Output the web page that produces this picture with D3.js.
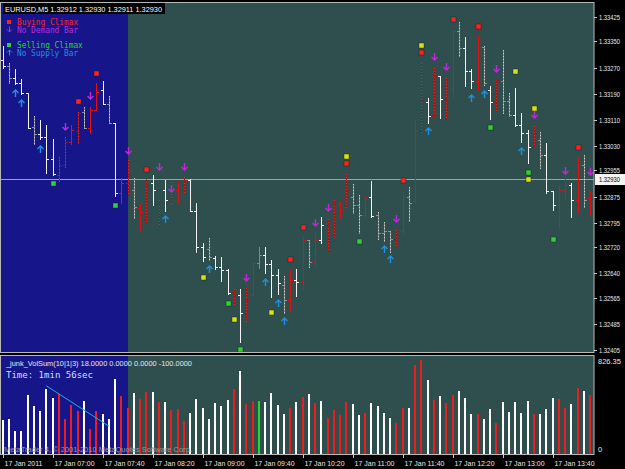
<!DOCTYPE html>
<html>
<head>
<meta charset="utf-8">
<script src="https://cdn.jsdelivr.net/npm/d3@7"></script>
<style>
body{margin:0;background:#000;}
svg{display:block;}
</style>
</head>
<body>
<script>
// EURUSD M5 bars, 17 Jan 2011 from 06:20
const opens = [1.33293,1.33275,1.33238,1.33223,1.33192,1.33088,1.33067,1.33057,1.32990,1.32941,
1.32972,1.33042,1.33076,1.33134,1.33085,1.33140,1.33201,1.33158,1.33100,1.32886,
1.32916,1.32895,1.32840,1.32803,1.32916,1.32855,1.32895,1.32864,1.32895,1.32910,
1.32926,1.32831,1.32720,1.32714,1.32687,1.32659,1.32650,1.32583,1.32573,1.32518,
1.32573,1.32671,1.32696,1.32668,1.32635,1.32604,1.32558,1.32619,1.32613,1.32742,
1.32674,1.32742,1.32788,1.32757,1.32855,1.32849,1.32874,1.32849,1.32818,1.32874,
1.32818,1.32763,1.32769,1.32745,1.32769,1.32874,1.32861,1.33076,1.33165,1.33122,
1.33244,1.33174,1.33204,1.33382,1.33330,1.33260,1.33226,1.33333,1.33201,1.33165,
1.33229,1.33168,1.33125,1.33094,1.33070,1.33027,1.33048,1.33002,1.32892,1.32849,
1.32895,1.32910,1.32864,1.32972,1.32870];
const highs = [1.33336,1.33284,1.33266,1.33235,1.33192,1.33122,1.33109,1.33094,1.33051,1.32996,
1.33057,1.33094,1.33134,1.33149,1.33149,1.33223,1.33229,1.33183,1.33100,1.32932,
1.32987,1.32932,1.32855,1.32929,1.32941,1.32864,1.32926,1.32920,1.32920,1.32935,
1.32929,1.32855,1.32733,1.32748,1.32693,1.32690,1.32653,1.32592,1.32592,1.32595,
1.32671,1.32720,1.32720,1.32681,1.32653,1.32632,1.32650,1.32653,1.32751,1.32742,
1.32763,1.32812,1.32806,1.32864,1.32858,1.32944,1.32913,1.32880,1.32874,1.32923,
1.32828,1.32797,1.32769,1.32773,1.32892,1.32904,1.33113,1.33284,1.33177,1.33269,
1.33244,1.33238,1.33385,1.33410,1.33364,1.33266,1.33367,1.33336,1.33214,1.33232,
1.33324,1.33192,1.33207,1.33131,1.33079,1.33091,1.33073,1.33039,1.32892,1.32910,
1.32956,1.32916,1.32996,1.33002,1.32889];
const lows = [1.33269,1.33223,1.33220,1.33189,1.33085,1.33036,1.33051,1.32947,1.32941,1.32923,
1.32965,1.33036,1.33039,1.33085,1.33070,1.33140,1.33158,1.33100,1.32877,1.32855,
1.32880,1.32809,1.32773,1.32794,1.32849,1.32785,1.32831,1.32855,1.32858,1.32886,
1.32831,1.32705,1.32678,1.32681,1.32653,1.32616,1.32576,1.32543,1.32429,1.32494,
1.32573,1.32656,1.32641,1.32567,1.32576,1.32518,1.32524,1.32570,1.32592,1.32659,
1.32665,1.32733,1.32708,1.32751,1.32806,1.32843,1.32825,1.32763,1.32812,1.32812,
1.32745,1.32739,1.32705,1.32723,1.32763,1.32800,1.32855,1.33073,1.33100,1.33119,
1.33116,1.33113,1.33180,1.33305,1.33214,1.33207,1.33201,1.33217,1.33113,1.33137,
1.33131,1.33122,1.33091,1.33042,1.32978,1.33027,1.32962,1.32886,1.32834,1.32779,
1.32864,1.32812,1.32825,1.32843,1.32818];
const closes = [1.33275,1.33238,1.33223,1.33192,1.33085,1.33067,1.33057,1.32990,1.32944,1.32972,
1.33042,1.33079,1.33131,1.33085,1.33140,1.33195,1.33158,1.33100,1.32886,1.32916,
1.32941,1.32843,1.32828,1.32910,1.32895,1.32818,1.32864,1.32895,1.32910,1.32926,
1.32831,1.32720,1.32690,1.32690,1.32659,1.32650,1.32580,1.32573,1.32518,1.32558,
1.32671,1.32696,1.32668,1.32635,1.32610,1.32558,1.32619,1.32613,1.32742,1.32674,
1.32742,1.32788,1.32745,1.32855,1.32834,1.32895,1.32849,1.32818,1.32871,1.32815,
1.32763,1.32769,1.32745,1.32769,1.32874,1.32855,1.33076,1.33171,1.33122,1.33244,
1.33174,1.33235,1.33382,1.33330,1.33260,1.33229,1.33333,1.33223,1.33165,1.33232,
1.33168,1.33125,1.33094,1.33070,1.33027,1.33070,1.33002,1.32892,1.32849,1.32895,
1.32910,1.32864,1.32972,1.32864,1.32850];
const volumes = [299,305,202,202,519,422,378,571,490,527,
305,431,378,469,217,378,349,305,659,513,
402,534,486,542,548,454,454,389,398,293,
363,486,402,308,446,425,472,569,727,442,
463,463,460,534,431,349,404,454,501,527,
444,466,316,384,343,454,440,343,363,448,
419,363,316,270,404,404,782,824,651,475,
510,446,516,551,490,352,352,310,396,273,
460,372,454,360,466,352,352,393,492,486,
404,442,578,556,516];
// W white, w grey dotted, R red, r dark red dotted, G green
const barKinds = ["W","w","W","W","W","w","W","W","W","r",
"r","R","r","w","R","R","W","w","W","R",
"r","w","R","r","W","r","W","r","R","r",
"W","W","W","w","W","W","W","r","W","r",
"R","G","W","W","W","w","R","W","R","w",
"R","W","r","r","R","r","w","w","R","W",
"w","w","w","r","R","w","R","r","W","r",
"W","r","R","w","W","W","R","w","W","r",
"w","w","W","W","W","r","w","W","W","R",
"R","W","R","w","R"];

const priceTicks = [1.33425,1.33350,1.33270,1.33190,1.33110,1.33030,1.32955,1.32875,1.32795,1.32720,1.32640,1.32565,1.32485,1.32405];
const timeTickBars = [0,8,16,24,32,40,48,56,64,72,80,88];
const timeLabels = ["17 Jan 2011","17 Jan 07:00","17 Jan 07:40","17 Jan 08:20","17 Jan 09:00","17 Jan 09:40",
"17 Jan 10:20","17 Jan 11:00","17 Jan 11:40","17 Jan 12:20","17 Jan 13:00","17 Jan 13:40"];
const bidPrice = 1.32930;
const volMax = 826.35;

// signals as [bar, price]
const buyingClimax = [[12,1.33168],[15,1.33253],[23,1.32959],[46,1.32684],[48,1.32782],[55,1.32978],[64,1.32926],[67,1.33318],[72,1.33419],[76,1.33397],[92,1.33027]];
const sellingClimax = [[8,1.32916],[18,1.32849],[36,1.32549],[38,1.32408],[57,1.32739],[78,1.33088],[84,1.32950],[88,1.32745]];
const yellowMarks = [[32,1.32629],[37,1.32500],[43,1.32521],[55,1.32999],[67,1.33339],[82,1.33260],[84,1.32929],[85,1.33146]];
const noDemand = [[10,1.33088],[14,1.33183],[20,1.33014],[25,1.32965],[27,1.32898],[29,1.32965],[39,1.32625],[50,1.32794],[52,1.32840],[63,1.32806],[69,1.33302],[71,1.33272],[79,1.33266],[85,1.33125],[90,1.32953],[94,1.32950]];
const noSupply = [[2,1.33192],[3,1.33162],[6,1.33021],[26,1.32806],[33,1.32653],[42,1.32613],[44,1.32549],[45,1.32494],[61,1.32714],[62,1.32684],[68,1.33076],[75,1.33177],[77,1.33189],[83,1.33014]];
// volume trend line [bar, volume]
const volTrend = [[7,600],[17,246]];

const W = 625, H = 469;
const plotRight = 594, mainTop = 2, mainBottom = 352, volTop = 355, volBottom = 454;
const sessionEndBar = 20;

const svg = d3.select("body").append("svg").attr("width", W).attr("height", H)
    .style("background", "#000");

const x = d3.scaleLinear().domain([0, 94]).range([2.5, 590]);
const y = d3.scaleLinear().domain([1.32405, 1.33425]).range([350, 17]);
const yv = d3.scaleLinear().domain([0, volMax]).range([volBottom, 360]);
const px = i => Math.round(x(i)) + 0.5;

// base colour and (for dotted kinds) the dot colour drawn over it
const barColor = {W: "#f4f4f4", w: "#8e9090", R: "#e01010", r: "#9c1414", G: "#20d020"};
const dotColor = {w: "#d0d0d0", r: "#e82828"};
const volColor = {W: "#ffffff", w: "#ffffff", R: "#ee1c1c", r: "#ee1c1c", G: "#22dd22"};

// panel backgrounds
[[mainTop, mainBottom], [volTop, volBottom]].forEach(function(p){
    svg.append("rect").attr("x", 0).attr("y", p[0]).attr("width", plotRight).attr("height", p[1] - p[0])
        .attr("fill", "#2f4f4f");
    // early session shading
    svg.append("rect").attr("x", 0).attr("y", p[0]).attr("width", x(sessionEndBar) + 0.5).attr("height", p[1] - p[0])
        .attr("fill", "#16168a");
});

// clip for main panel
svg.append("clipPath").attr("id", "mainClip").append("rect")
    .attr("x", 0).attr("y", mainTop).attr("width", plotRight).attr("height", mainBottom - mainTop);
const main = svg.append("g").attr("clip-path", "url(#mainClip)");

// bid line
main.append("line").attr("x1", 0).attr("x2", plotRight)
    .attr("y1", Math.round(y(bidPrice)) + 0.5).attr("y2", Math.round(y(bidPrice)) + 0.5)
    .attr("stroke", "#9aa6a6").attr("stroke-width", 1);

// OHLC bars
const idx = d3.range(opens.length);
const bars = main.append("g").selectAll("g").data(idx).enter().append("g")
    .attr("stroke", function(i){return barColor[barKinds[i]];});
bars.append("line")
    .attr("x1", px).attr("x2", px)
    .attr("y1", function(i){return Math.round(y(highs[i]));})
    .attr("y2", function(i){return Math.round(y(lows[i])) + 1;});
// dotted look for the painted bars
bars.filter(function(i){return dotColor[barKinds[i]];}).append("line")
    .attr("x1", px).attr("x2", px)
    .attr("y1", function(i){return Math.round(y(highs[i]));})
    .attr("y2", function(i){return Math.round(y(lows[i])) + 1;})
    .attr("stroke", function(i){return dotColor[barKinds[i]];})
    .attr("stroke-dasharray", "1,2");
bars.append("line")
    .attr("x1", function(i){return px(i) - 2.5;}).attr("x2", function(i){return px(i);})
    .attr("y1", function(i){return Math.round(y(opens[i])) + 0.5;})
    .attr("y2", function(i){return Math.round(y(opens[i])) + 0.5;});
bars.append("line")
    .attr("x1", function(i){return px(i);}).attr("x2", function(i){return px(i) + 2.5;})
    .attr("y1", function(i){return Math.round(y(closes[i])) + 0.5;})
    .attr("y2", function(i){return Math.round(y(closes[i])) + 0.5;});

// square markers
function squares(data, color){
    main.append("g").selectAll("rect").data(data).enter().append("rect")
        .attr("x", function(d){return Math.round(x(d[0])) - 2;})
        .attr("y", function(d){return Math.round(y(d[1])) - 2;})
        .attr("width", 5).attr("height", 5)
        .attr("fill", color).attr("stroke", "#1a1a1a").attr("stroke-width", 0.4);
}
squares(buyingClimax, "#ff2020");
squares(sellingClimax, "#30d030");
squares(yellowMarks, "#d8e010");

// arrows: dir 1 = down, -1 = up
function arrows(data, color, dir){
    main.append("g").selectAll("path").data(data).enter().append("path")
        .attr("transform", function(d){return "translate(" + (Math.round(x(d[0])) + 0.5) + "," + Math.round(y(d[1])) + ")";})
        .attr("d", dir > 0 ? "M0,-4 L0,3 M-3,0 L0,3 L3,0" : "M0,4 L0,-3 M-3,0 L0,-3 L3,0")
        .attr("fill", "none").attr("stroke", color).attr("stroke-width", 1.4);
}
arrows(noDemand, "#c028d8", 1);
arrows(noSupply, "#2090e0", -1);

// volume histogram
svg.append("g").selectAll("rect").data(idx).enter().append("rect")
    .attr("x", function(i){return Math.round(x(i)) - 1;})
    .attr("y", function(i){return Math.round(yv(volumes[i]));})
    .attr("width", 2)
    .attr("height", function(i){return volBottom - Math.round(yv(volumes[i]));})
    .attr("fill", function(i){return volColor[barKinds[i]];});

// trend line on volume
svg.append("line")
    .attr("x1", x(volTrend[0][0])).attr("y1", yv(volTrend[0][1]))
    .attr("x2", x(volTrend[1][0])).attr("y2", yv(volTrend[1][1]))
    .attr("stroke", "#18b0e0").attr("stroke-width", 1);

// panel borders
svg.append("rect").attr("x", 0.5).attr("y", mainTop + 0.5).attr("width", plotRight - 0.5).attr("height", mainBottom - mainTop)
    .attr("fill", "none").attr("stroke", "#b8b8b8");
svg.append("rect").attr("x", 0.5).attr("y", volTop + 0.5).attr("width", plotRight - 0.5).attr("height", volBottom - volTop)
    .attr("fill", "none").attr("stroke", "#b8b8b8");

const axisFont = "'Liberation Sans', Arial, sans-serif";
const monoFont = "'DejaVu Sans Mono', 'Liberation Mono', monospace";

// price axis
const pAxis = svg.append("g");
pAxis.selectAll("line").data(priceTicks).enter().append("line")
    .attr("x1", plotRight).attr("x2", plotRight + 3)
    .attr("y1", function(d){return Math.round(y(d)) + 0.5;}).attr("y2", function(d){return Math.round(y(d)) + 0.5;})
    .attr("stroke", "#c8c8c8");
pAxis.selectAll("text").data(priceTicks).enter().append("text")
    .attr("x", 599).attr("y", function(d){return y(d) + 3;})
    .attr("fill", "#e8e8e8").attr("font-family", axisFont).attr("font-size", 7.5)
    .attr("textLength", 21).attr("lengthAdjust", "spacingAndGlyphs")
    .text(function(d){return d.toFixed(5);});

// bid label
svg.append("rect").attr("x", 595).attr("y", Math.round(y(bidPrice)) - 5).attr("width", 30).attr("height", 11)
    .attr("fill", "#f4f4f4");
svg.append("text").attr("x", 599).attr("y", y(bidPrice) + 3)
    .attr("fill", "#000").attr("font-family", axisFont).attr("font-size", 7.5)
    .attr("textLength", 21).attr("lengthAdjust", "spacingAndGlyphs")
    .text(bidPrice.toFixed(5));

// volume axis labels
svg.append("text").attr("x", 598).attr("y", yv(volMax) + 4)
    .attr("fill", "#e8e8e8").attr("font-family", axisFont).attr("font-size", 7.5)
    .text(volMax.toFixed(2));
svg.append("text").attr("x", 598).attr("y", 452)
    .attr("fill", "#e8e8e8").attr("font-family", axisFont).attr("font-size", 7.5)
    .text("0");

// time axis
const tAxis = svg.append("g");
tAxis.selectAll("line").data(timeTickBars).enter().append("line")
    .attr("x1", px).attr("x2", px).attr("y1", volBottom).attr("y2", volBottom + 4)
    .attr("stroke", "#c8c8c8");
tAxis.selectAll("text").data(timeTickBars).enter().append("text")
    .attr("x", function(d){return px(d) + 1;}).attr("y", 466)
    .attr("fill", "#e8e8e8").attr("font-family", axisFont).attr("font-size", 8)
    .attr("textLength", function(d, i){return i === 0 ? 38 : 40;}).attr("lengthAdjust", "spacingAndGlyphs")
    .text(function(d, i){return timeLabels[i];});

// symbol line
svg.append("rect").attr("x", 3).attr("y", 3).attr("width", 162).attr("height", 11).attr("fill", "#000");
svg.append("text").attr("x", 5).attr("y", 11.5)
    .attr("fill", "#fff").attr("font-family", axisFont).attr("font-size", 8)
    .attr("textLength", 157).attr("lengthAdjust", "spacingAndGlyphs")
    .text("EURUSD,M5  1.32912 1.32930 1.32911 1.32930");

// legend
const legend = [
    {label: "Buying Climax", color: "#ff2020", y: 22, mark: "sq"},
    {label: "No Demand Bar", color: "#c028d8", y: 29.5, mark: "down"},
    {label: "Selling Climax", color: "#30d030", y: 45, mark: "sq"},
    {label: "No Supply Bar", color: "#2090e0", y: 52.5, mark: "up"}
];
legend.forEach(function(l){
    if (l.mark === "sq") {
        svg.append("rect").attr("x", 7).attr("y", l.y - 2).attr("width", 4).attr("height", 4).attr("fill", l.color);
    } else {
        svg.append("path").attr("transform", "translate(9.5," + l.y + ")")
            .attr("d", l.mark === "down" ? "M0,-3 L0,2.5 M-2.5,0 L0,2.5 L2.5,0" : "M0,3 L0,-2.5 M-2.5,0 L0,-2.5 L2.5,0")
            .attr("fill", "none").attr("stroke", l.color).attr("stroke-width", 1);
    }
    svg.append("text").attr("x", 17).attr("y", l.y + 3)
        .attr("fill", l.color).attr("font-family", monoFont).attr("font-size", 8)
        .attr("textLength", l.label.length * 4.7).attr("lengthAdjust", "spacingAndGlyphs")
        .text(l.label);
});

// indicator caption
svg.append("text").attr("x", 6).attr("y", 366)
    .attr("fill", "#e8e8e8").attr("font-family", axisFont).attr("font-size", 7.5)
    .attr("textLength", 186).attr("lengthAdjust", "spacingAndGlyphs")
    .text("_junk_VolSum(10|1|3) 18.0000 0.0000 0.0000 -100.0000");
svg.append("text").attr("x", 6).attr("y", 378)
    .attr("fill", "#d8dcff").attr("font-family", monoFont).attr("font-size", 9)
    .attr("textLength", 87).attr("lengthAdjust", "spacingAndGlyphs")
    .text("Time: 1min 56sec");

// watermark
svg.append("text").attr("x", 4).attr("y", 452)
    .attr("fill", "#9a9a9a").attr("font-family", axisFont).attr("font-size", 7.5)
    .attr("textLength", 188).attr("lengthAdjust", "spacingAndGlyphs")
    .text("MetaTrader 4, \u00a9 2001-2010 MetaQuotes Software Corp.");
</script>
</body>
</html>
